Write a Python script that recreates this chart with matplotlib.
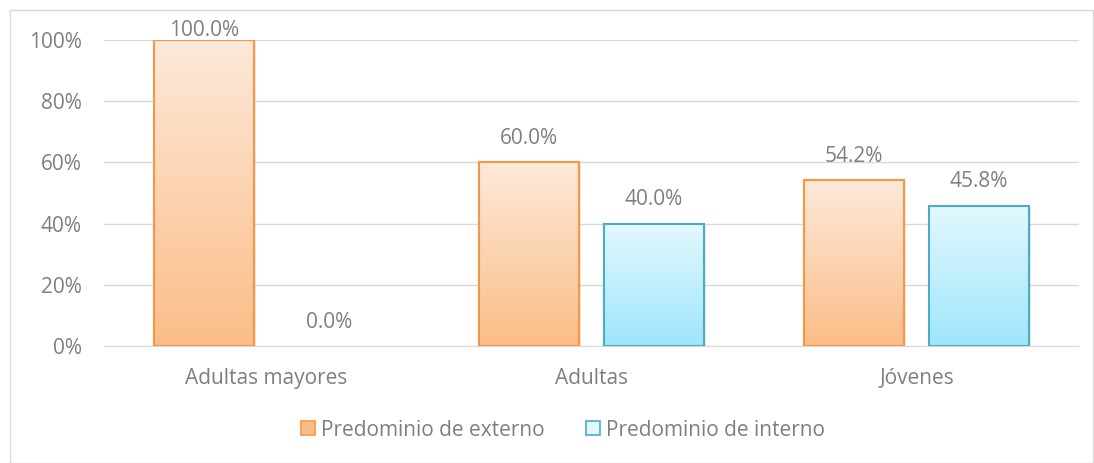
import numpy as np
import matplotlib.pyplot as plt
from matplotlib.colors import LinearSegmentedColormap
from matplotlib.patches import Rectangle

# Data
categories = ["Adultas mayores", "Adultas", "Jóvenes"]
externo = [1.000, 0.600, 0.542]
interno = [0.000, 0.400, 0.458]
series_names = ["Predominio de externo", "Predominio de interno"]

plt.rcParams['font.family'] = ['Open Sans', 'DejaVu Sans']
text_col = "#7f7f7f"
fsize = 15

fig = plt.figure(figsize=(10.94, 4.63), dpi=100)
ax = fig.add_axes([104 / 1094, 117 / 463, 975 / 1094, 306 / 463])

# outer chart border
fig.patches.append(Rectangle((10 / 1094, 0), 1083 / 1094, 453 / 463,
                             transform=fig.transFigure, fill=False,
                             edgecolor="#d9d9d9", linewidth=1))

x = np.arange(len(categories))
width = 0.308
offset = 0.192

styles = [
    ("#f79646", ["#fde9d9", "#fbbd88"]),
    ("#4bacc6", ["#e3f8fe", "#9fe6fb"]),
]

grad = np.linspace(0, 1, 256).reshape(-1, 1)
for values, shift, (edge, cols) in zip([externo, interno], [-offset, offset], styles):
    cmap = LinearSegmentedColormap.from_list("g", cols)
    bars = ax.bar(x + shift, values, width, color="none", edgecolor="none", zorder=3)
    for b, v in zip(bars, values):
        if v <= 0:
            continue
        x0, w, h = b.get_x(), b.get_width(), b.get_height()
        # soft shadow
        ax.add_patch(Rectangle((x0 + 0.006, -0.004), w, h, facecolor="#000000",
                               alpha=0.08, edgecolor="none", zorder=2.5))
        im = ax.imshow(grad, cmap=cmap, extent=[x0, x0 + w, 0, h], aspect="auto",
                       origin="upper", zorder=3)
        im.set_clip_path(b)
        ax.add_patch(Rectangle((x0, 0), w, h, fill=False, edgecolor=edge,
                               linewidth=1.5, zorder=4))
    for xi, v in zip(x + shift, values):
        ly = min(v + 0.078, 1.03)
        ax.text(xi, ly, f"{v * 100:.1f}%", ha="center", va="center",
                fontsize=fsize, color=text_col, zorder=5)

ax.set_xlim(-0.5, len(categories) - 0.5)
ax.set_ylim(0, 1)
ax.set_yticks(np.arange(0, 1.01, 0.2))
ax.set_yticklabels([f"{int(t * 100)}%" for t in np.arange(0, 1.01, 0.2)])
ax.set_xticks(x)
ax.set_xticklabels(categories)
ax.tick_params(axis="both", length=0, labelsize=fsize, labelcolor=text_col)
ax.tick_params(axis="x", pad=16)
ax.tick_params(axis="y", pad=16)
ax.grid(axis="y", color="#d9d9d9", linewidth=1, zorder=0)
for s in ["top", "right", "left"]:
    ax.spines[s].set_visible(False)
ax.spines["bottom"].set_color("#d9d9d9")
ax.set_axisbelow(True)

# legend
handles = [Rectangle((0, 0), 1, 1, facecolor=styles[0][1][1], edgecolor=styles[0][0], linewidth=1.2),
           Rectangle((0, 0), 1, 1, facecolor=styles[1][1][0], edgecolor=styles[1][0], linewidth=1.2)]
leg = fig.legend(handles, series_names, loc="center", bbox_to_anchor=(563 / 1094, 1 - 430 / 463),
                 ncol=2, frameon=False, fontsize=fsize, handlelength=0.65, handleheight=0.65,
                 handletextpad=0.3, columnspacing=2.0)
for t in leg.get_texts():
    t.set_color(text_col)

fig.savefig("out.png", dpi=100)
